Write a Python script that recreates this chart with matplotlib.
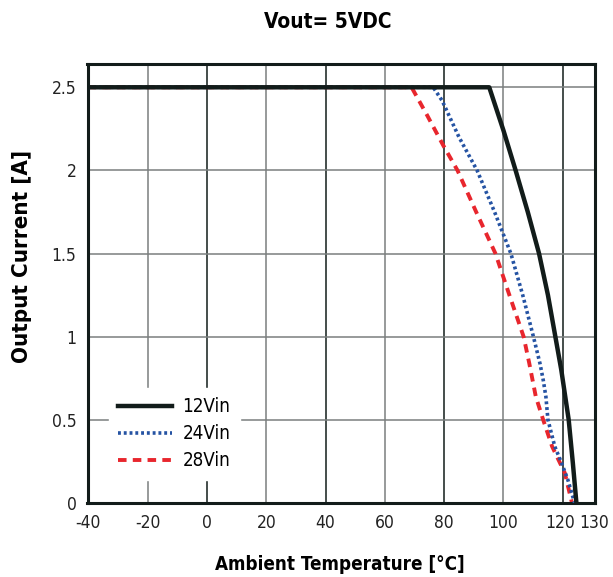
import matplotlib
matplotlib.use("Agg")
import matplotlib.pyplot as plt
import matplotlib.transforms as mtransforms

plt.rcParams['font.family'] = ['DejaVu Sans']
plt.rcParams['font.stretch'] = 'condensed'
plt.rcParams['axes.unicode_minus'] = False

title = "Vout= 5VDC"
xlabel = "Ambient Temperature [°C]"
ylabel = "Output Current [A]"

xticks = [-40, -20, 0, 20, 40, 60, 80, 100, 120, 130]
yticks = [0, 0.5, 1, 1.5, 2, 2.5]
ytick_labels = ["0", "0.5", "1", "1.5", "2", "2.5"]

t12 = [-40.3, 95.2, 100, 104.1, 108.2, 112, 115, 117.5, 119.5, 122, 123.4, 124.6]
i12 = [2.5, 2.5, 2.24, 2.0, 1.75, 1.5, 1.25, 1.0, 0.8, 0.5, 0.24, 0.0]

t24 = [-40.3, 76.3, 79.3, 85, 91.1, 97, 102.5, 106.5, 110.1, 112.3, 113.4, 114.3,
       115, 117.3, 119.6, 121.7, 124]
i24 = [2.5, 2.5, 2.42, 2.2, 2.0, 1.75, 1.5, 1.25, 1.0, 0.84, 0.74, 0.64,
       0.5, 0.34, 0.24, 0.14, 0.0]

t28 = [-40.3, 69, 74.3, 79.7, 84.5, 90.8, 97.3, 102, 106.8, 108.7, 110.9, 113.4,
       116.4, 120.7, 123.1]
i28 = [2.5, 2.5, 2.33, 2.15, 2.0, 1.75, 1.5, 1.25, 1.0, 0.84, 0.64, 0.5,
       0.34, 0.18, 0.0]

dark = "#121c1a"
grey = "#7a7f7e"
fig = plt.figure(figsize=(6.13, 5.77), dpi=100)
L, R, T, B = 87.5, 594.5, 64, 503
ax = fig.add_axes([L/613, (577-B)/577, (R-L)/613, (B-T)/577])

# grid
for x in [-20, 0, 20, 40, 60, 80, 100, 120]:
    c = dark if x in (0, 40, 80, 120) else grey
    ax.axvline(x, color=c, lw=1.1, zorder=1)
for y in [0.5, 1, 1.5, 2, 2.5]:
    ax.axhline(y, color=grey, lw=1.1, zorder=1)

ax.plot(t12, i12, color=dark, lw=3.2, label="12Vin", zorder=4)
ax.plot(t24, i24, color="#2553a3", lw=2.6, ls=(0, (0.8, 0.8)), label="24Vin", zorder=3)
ax.plot(t28, i28, color="#e8262d", lw=2.8, ls=(0, (2.2, 1.6)), label="28Vin", zorder=2)

ax.set_xlim(-40.3, 130.7)
ax.set_ylim(0, 2.64)
ax.set_xticks(xticks)
ax.set_xticklabels([str(v) for v in xticks])
ax.set_yticks(yticks)
ax.set_yticklabels(ytick_labels)
ax.tick_params(length=0, labelsize=12.5, colors="#222222")
ax.tick_params(axis="x", pad=8)
ax.tick_params(axis="y", pad=8)
for s in ax.spines.values():
    s.set_color(dark)
    s.set_linewidth(2.2)

# nudge the two crowded labels apart a little
labels = ax.get_xticklabels()
labels[-2].set_transform(labels[-2].get_transform() +
                         mtransforms.ScaledTranslation(-3/100, 0, fig.dpi_scale_trans))
labels[-1].set_transform(labels[-1].get_transform() +
                         mtransforms.ScaledTranslation(2/100, 0, fig.dpi_scale_trans))

fig.text(328/613, 1 - 22/577, title, fontsize=15, fontweight="bold",
         ha="center", va="center")
ax.set_xlabel(xlabel, fontsize=13.5, fontweight="bold")
ax.xaxis.set_label_coords(0.497, -(565-B)/(B-T), transform=ax.transAxes)
ax.set_ylabel(ylabel, fontsize=16, fontweight="bold")
ax.yaxis.set_label_coords(-(L-22)/(R-L), (B-256)/(B-T), transform=ax.transAxes)
ax.xaxis.label.set_va("center")
ax.yaxis.label.set_va("center")

leg = ax.legend(loc="lower left", bbox_to_anchor=(0.023, 0.032), frameon=True,
                fontsize=13.5, handlelength=2.9, handletextpad=0.55,
                labelspacing=0.42, borderpad=0.5)
leg.get_frame().set_edgecolor("white")
leg.get_frame().set_facecolor("white")
leg.get_frame().set_alpha(1)
leg.get_frame().set_boxstyle("square", pad=0)
leg.set_zorder(5)

fig.savefig("out.png", dpi=100)
